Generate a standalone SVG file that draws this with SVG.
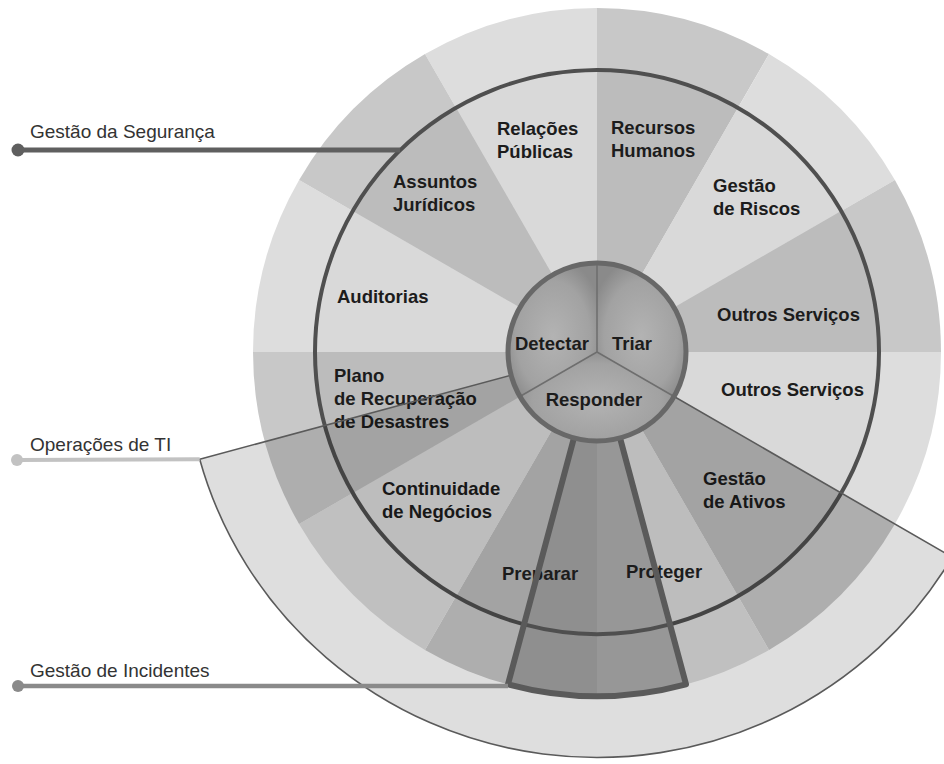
<svg xmlns="http://www.w3.org/2000/svg" width="944" height="764" viewBox="0 0 944 764">
<style>
.il{fill:#d9d9d9}.im{fill:#bcbcbc}.ol{fill:#dddddd}.om{fill:#c8c8c8}
.lbl{font-family:"Liberation Sans",Arial,sans-serif;font-weight:bold;font-size:18.5px;fill:#1c1c1c}
.side{font-family:"Liberation Sans",Arial,sans-serif;font-size:19px;fill:#333333}
.ctr{text-anchor:middle}
</style>
<defs>
<radialGradient id="pillow" cx="50%" cy="55%" r="60%">
<stop offset="0" stop-color="#b3b3b3"/><stop offset="0.7" stop-color="#a2a2a2"/><stop offset="1" stop-color="#8a8a8a"/>
</radialGradient>
</defs>
<rect width="944" height="764" fill="#ffffff"/>
<g id="sectors">
<g id="relacoes-publicas"><path class="ol" d="M597,352 L425,54.1 A344,344 0 0 1 597,8 Z"/><path class="il" d="M597,352 L456,107.8 A282,282 0 0 1 597,70 Z"/><text class="lbl" x="497" y="135">Relações</text><text class="lbl" x="497" y="158">Públicas</text></g>
<g id="recursos-humanos"><path class="om" d="M597,352 L597,8 A344,344 0 0 1 769,54.1 Z"/><path class="im" d="M597,352 L597,70 A282,282 0 0 1 738,107.8 Z"/><text class="lbl" x="611" y="134">Recursos</text><text class="lbl" x="611" y="157">Humanos</text></g>
<g id="gestao-riscos"><path class="ol" d="M597,352 L769,54.1 A344,344 0 0 1 894.9,180 Z"/><path class="il" d="M597,352 L738,107.8 A282,282 0 0 1 841.2,211 Z"/><text class="lbl" x="713" y="192">Gestão</text><text class="lbl" x="713" y="215">de Riscos</text></g>
<g id="outros-servicos-1"><path class="om" d="M597,352 L894.9,180 A344,344 0 0 1 941,352 Z"/><path class="im" d="M597,352 L841.2,211 A282,282 0 0 1 879,352 Z"/><text class="lbl" x="717" y="321">Outros Serviços</text></g>
<g id="outros-servicos-2"><path class="ol" d="M597,352 L941,352 A344,344 0 0 1 894.9,524 Z"/><path class="il" d="M597,352 L879,352 A282,282 0 0 1 841.2,493 Z"/><text class="lbl" x="721" y="396">Outros Serviços</text></g>
<g id="gestao-ativos"><path class="om" d="M597,352 L894.9,524 A344,344 0 0 1 769,649.9 Z"/><path class="im" d="M597,352 L841.2,493 A282,282 0 0 1 738,596.2 Z"/><text class="lbl" x="703" y="485">Gestão</text><text class="lbl" x="703" y="508">de Ativos</text></g>
<g id="proteger-sector"><path class="ol" d="M597,352 L769,649.9 A344,344 0 0 1 597,696 Z"/><path class="il" d="M597,352 L738,596.2 A282,282 0 0 1 597,634 Z"/></g>
<g id="preparar-sector"><path class="om" d="M597,352 L597,696 A344,344 0 0 1 425,649.9 Z"/><path class="im" d="M597,352 L597,634 A282,282 0 0 1 456,596.2 Z"/></g>
<g id="continuidade-negocios"><path class="ol" d="M597,352 L425,649.9 A344,344 0 0 1 299.1,524 Z"/><path class="il" d="M597,352 L456,596.2 A282,282 0 0 1 352.8,493 Z"/><text class="lbl" x="382" y="495">Continuidade</text><text class="lbl" x="382" y="518">de Negócios</text></g>
<g id="plano-recuperacao"><path class="om" d="M597,352 L299.1,524 A344,344 0 0 1 253,352 Z"/><path class="im" d="M597,352 L352.8,493 A282,282 0 0 1 315,352 Z"/><text class="lbl" x="334" y="382">Plano</text><text class="lbl" x="334" y="405">de Recuperação</text><text class="lbl" x="334" y="428">de Desastres</text></g>
<g id="auditorias"><path class="ol" d="M597,352 L253,352 A344,344 0 0 1 299.1,180 Z"/><path class="il" d="M597,352 L315,352 A282,282 0 0 1 352.8,211 Z"/><text class="lbl" x="337" y="303">Auditorias</text></g>
<g id="assuntos-juridicos"><path class="om" d="M597,352 L299.1,180 A344,344 0 0 1 425,54.1 Z"/><path class="im" d="M597,352 L352.8,211 A282,282 0 0 1 456,107.8 Z"/><text class="lbl" x="393" y="188">Assuntos</text><text class="lbl" x="393" y="211">Jurídicos</text></g>
</g>
<g id="gestao-seguranca-ring"><circle cx="597" cy="352" r="282" fill="none" stroke="#4f4f4f" stroke-width="4"/></g>
<g id="operacoes-ti"><path d="M597,352 L952.2,557.1 A412,406 0 0 1 199.7,459.2 Z" fill="#000" fill-opacity="0.13" stroke="#5a5a5a" stroke-width="1.6" stroke-linejoin="round"/></g>
<g id="gestao-incidentes">
<path d="M597,352 L508,684.3 A344,344 0 0 0 597,696 Z" fill="#8f8f8f"/>
<path d="M597,352 L597,696 A344,344 0 0 0 686,684.3 Z" fill="#979797"/>
<path d="M524,624.4 A282,282 0 0 0 670,624.4" fill="none" stroke="#4f4f4f" stroke-width="4"/>
<text class="lbl" x="502" y="580">Preparar</text>
<text class="lbl" x="626" y="578">Proteger</text>
<path d="M574.2,437 L508,684.3 A344,344 0 0 0 686,684.3 L619.8,437" fill="none" stroke="#5a5a5a" stroke-width="6" stroke-linejoin="round"/>
</g>
<g id="nucleo">
<circle cx="597" cy="352" r="88" fill="#9c9c9c"/>
<g id="detectar"><path d="M597,352 L520.8,396 A88,88 0 0 1 597,264 Z" fill="url(#pillow)"/><text class="lbl ctr" x="552" y="350">Detectar</text></g>
<g id="triar"><path d="M597,352 L597,264 A88,88 0 0 1 673.2,396 Z" fill="url(#pillow)"/><text class="lbl ctr" x="632" y="350">Triar</text></g>
<g id="responder"><path d="M597,352 L673.2,396 A88,88 0 0 1 520.8,396 Z" fill="url(#pillow)"/><text class="lbl ctr" x="594" y="406">Responder</text></g>
<path d="M597,264 L597,352 L520.8,396 M597,352 L673.2,396" fill="none" stroke="#6e6e6e" stroke-width="1.5"/>
<circle cx="597" cy="352" r="89" fill="none" stroke="#686868" stroke-width="5"/>
</g>
<g id="connectors">
<line x1="18" y1="150" x2="400" y2="150" stroke="#5f5f5f" stroke-width="5"/>
<circle cx="18" cy="150" r="6.5" fill="#5f5f5f"/>
<line x1="17" y1="460" x2="199.7" y2="459.2" stroke="#c2c2c2" stroke-width="4"/>
<circle cx="17" cy="460" r="6" fill="#c2c2c2"/>
<line x1="18" y1="686" x2="508" y2="686" stroke="#8a8a8a" stroke-width="4.5"/>
<circle cx="18" cy="686" r="6" fill="#8a8a8a"/>
</g>
<g id="side-labels">
<text class="side" x="30" y="138">Gestão da Segurança</text>
<text class="side" x="30" y="451">Operações de TI</text>
<text class="side" x="30" y="677">Gestão de Incidentes</text>
</g>
</svg>
